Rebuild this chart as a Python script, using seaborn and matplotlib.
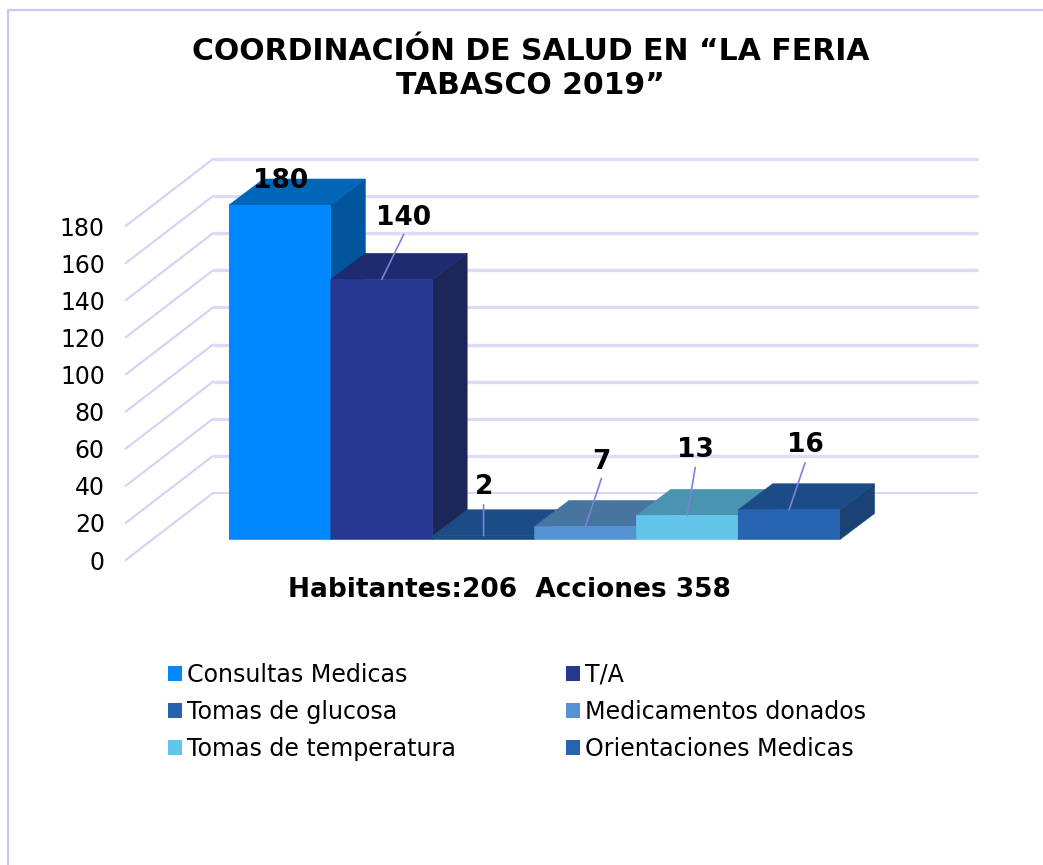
import matplotlib
matplotlib.use("Agg")
import matplotlib.pyplot as plt
from matplotlib.lines import Line2D
from matplotlib.patches import Polygon, Patch
import seaborn as sns
import pandas as pd

categories = ["Consultas Medicas", "T/A", "Tomas de glucosa",
              "Medicamentos donados", "Tomas de temperatura", "Orientaciones Medicas"]
values = [180, 140, 2, 7, 13, 16]
y_ticks = [0, 20, 40, 60, 80, 100, 120, 140, 160, 180]
title = "COORDINACIÓN DE SALUD EN “LA FERIA\nTABASCO 2019”"
subtitle = "Habitantes:206  Acciones 358"

front_colors = ["#0088FF", "#283891", "#1B4C85", "#5592D2", "#62C6EA", "#2663B1"]
top_colors = ["#0066B8", "#1E2B6E", "#1B4C85", "#4775A0", "#4A94B2", "#1B4C85"]
side_colors = ["#00559C", "#1B2759", "#1B4C85", "#3F6A92", "#43869F", "#1A4275"]
legend_colors = ["#0088FF", "#283891", "#2563B0", "#5592D2", "#62C6EA", "#2663B1"]
# pixel offsets of each value label from the top-centre of its bar
label_offsets = [(1, 27), (22, 64), (0, 52), (16, 67), (8, 68), (16, 68)]
has_leader = [False, True, True, True, True, True]
leader_starts = [None, (22, 45), (0, 31), (16, 48), (8, 48), (16, 47)]

W, H = 1043, 865
DPI = 100
sns.set_theme(style="white")
plt.rcParams["font.family"] = ["DejaVu Sans"]
fig = plt.figure(figsize=(W / DPI, H / DPI), dpi=DPI, facecolor="white")


def px_axes(x0, x1, y_top, y_bottom, **kw):
    return fig.add_axes([x0 / W, 1 - y_bottom / H, (x1 - x0) / W, (y_bottom - y_top) / H], **kw)


# frame
frame_c = "#C8C8F5"
fig.add_artist(Line2D([8 / W, 8 / W], [0, 1 - 10 / H], color=frame_c, lw=1.6, transform=fig.transFigure))
fig.add_artist(Line2D([8 / W, 1], [1 - 10 / H, 1 - 10 / H], color=frame_c, lw=1.6, transform=fig.transFigure))

# wall: value axis with floor diagonals and back-wall gridlines
wall = px_axes(125.7, 978, 226, 560, facecolor="none", zorder=1)
wall.set_xlim(0, 852.3)
wall.set_ylim(0, 180)
unit = 334 / 180
depth_x, depth_y = 87.3, 67 / unit
for v in y_ticks:
    wall.plot([0, depth_x], [v, v + depth_y], color="#D2D2F5", lw=1.5, clip_on=False, solid_capstyle="round")
    wall.plot([depth_x, 852.3], [v + depth_y, v + depth_y], color="#DCDCF8" if v else "#CFCFF4",
              lw=2.4 if v else 1.2, clip_on=False, solid_capstyle="butt")
wall.set_yticks(y_ticks)
wall.set_xticks([])
wall.tick_params(axis="y", length=0, pad=15, labelsize=17, labelcolor="black")
sns.despine(ax=wall, left=True, bottom=True)

# bars
ax = px_axes(229, 840, 205, 539.5, facecolor="none", zorder=2)
df = pd.DataFrame({"categoria": categories, "valor": values})
sns.barplot(data=df, x="categoria", y="valor", hue="categoria", palette=front_colors,
            legend=False, width=1.0, saturation=1, ax=ax, zorder=5, linewidth=0)
ax.set_xlim(-0.5, 5.5)
ax.set_ylim(0, 180)
ax.axis("off")

for bar_patch in list(ax.patches):
    bar_patch.set_edgecolor(bar_patch.get_facecolor())
    bar_patch.set_linewidth(0.4)
    bar_patch.set_snap(False)

dx_b = 34.5 / (611 / 6)
dy_b = 26 / (334.5 / 180)
for i, v in enumerate(values):
    l, r = i - 0.5, i + 0.5
    ax.add_patch(Polygon([(r, 0), (r + dx_b, dy_b), (r + dx_b, v + dy_b), (r, v)],
                         closed=True, fc=side_colors[i], ec=side_colors[i], lw=0.4,
                         zorder=2 + i * 0.1, clip_on=False))
    ax.add_patch(Polygon([(l, v), (r, v), (r + dx_b, v + dy_b), (l + dx_b, v + dy_b)],
                         closed=True, fc=top_colors[i], ec=top_colors[i], lw=0.4,
                         zorder=2 + i * 0.1 + 0.05, clip_on=False))

for i, v in enumerate(values):
    if has_leader[i]:
        ax.annotate("", xy=(i, v), xytext=leader_starts[i], textcoords="offset pixels",
                    arrowprops=dict(arrowstyle="-", color="#7F80DE", lw=1.2, shrinkA=0, shrinkB=0),
                    zorder=8, annotation_clip=False)
    ax.annotate(str(v), xy=(i, v), xytext=label_offsets[i], textcoords="offset pixels",
                ha="center", va="center_baseline", fontsize=19, fontweight="bold", color="black",
                zorder=9, annotation_clip=False)

# texts
fig.text(530.5 / W, 1 - 68.5 / H, title, ha="center", va="center", fontsize=21.5, fontweight="bold",
         linespacing=1.25, color="black")
fig.text(509.5 / W, 1 - 590 / H, subtitle, ha="center", va="center", fontsize=19, fontweight="bold", color="black")

# legend
handles = [Patch(fc=c, ec="none", label=n) for c, n in zip(legend_colors, categories)]
order = [0, 2, 4, 1, 3, 5]
fig.legend([handles[k] for k in order], [categories[k] for k in order], ncol=2,
           loc="upper left", bbox_to_anchor=(168 / W, 1 - 663 / H), frameon=False,
           fontsize=17.1, handlelength=0.59, handleheight=0.59, handletextpad=0.21,
           labelspacing=0.54, columnspacing=4.63, borderpad=0, borderaxespad=0, labelcolor="black")

fig.savefig("out.png", dpi=DPI)
